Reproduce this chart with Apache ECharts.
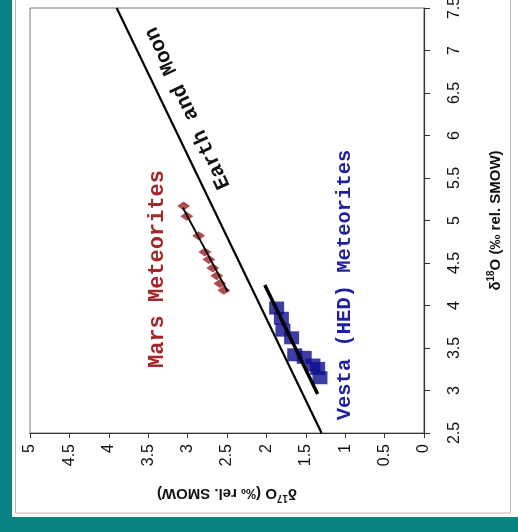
<!DOCTYPE html>
<html><head><meta charset="utf-8">
<script src="https://cdn.jsdelivr.net/npm/echarts@6/dist/echarts.min.js"></script>
<style>html,body{margin:0;padding:0;background:#0a8282;overflow:hidden}#c{width:518px;height:532px}</style>
</head><body><div id="c"></div><script>
// δ17O is drawn on the horizontal (bottom, reversed) axis, δ18O on the vertical (right) axis
const d17Ticks = [0, 0.5, 1, 1.5, 2, 2.5, 3, 3.5, 4, 4.5, 5];
const d18Ticks = [2.5, 3, 3.5, 4, 4.5, 5, 5.5, 6, 6.5, 7, 7.5];

const marsD18O = [5.17, 5.05, 4.82, 4.63, 4.54, 4.44, 4.35, 4.26, 4.18];
const marsD17O = [3.05, 3.01, 2.86, 2.78, 2.73, 2.68, 2.63, 2.59, 2.54];
const vestaD18O = [3.97, 3.85, 3.71, 3.62, 3.42, 3.39, 3.30, 3.26, 3.15];
const vestaD17O = [1.87, 1.81, 1.79, 1.68, 1.64, 1.52, 1.41, 1.35, 1.32];

const earthMoonD18O = [2.5, 7.5];
const earthMoonD17O = [1.3, 3.9];
const marsFitD18O = [5.15, 4.16];
const marsFitD17O = [3.06, 2.49];
const vestaFitD18O = [4.24, 2.96];
const vestaFitD17O = [2.02, 1.35];

const labels = {
  earth: 'Earth and Moon',
  mars: 'Mars Meteorites',
  vesta: 'Vesta (HED) Meteorites'
};

const pair = (a, b) => a.map((v, i) => [v, b[i]]);

const chart = echarts.init(document.getElementById('c'), null, {renderer: 'canvas'});
const axisFont = {fontFamily: 'Liberation Sans', fontSize: 16, color: '#111'};
const titleRich = {
  a: {fontFamily: 'Liberation Sans', fontSize: 15, fontWeight: 'bold', color: '#111'},
  s: {fontFamily: 'Liberation Sans', fontSize: 10, fontWeight: 'bold', color: '#111', verticalAlign: 'bottom', padding: [0, 0, 10, 0]}
};

chart.setOption({
  backgroundColor: '#0a8282',
  animation: false,
  grid: {left: 30, right: 94, top: 8, bottom: 99, outerBoundsMode: 'none', containLabel: false,
    show: true, borderColor: '#777', borderWidth: 1},
  xAxis: {
    type: 'value', inverse: true,
    min: d17Ticks[0], max: d17Ticks[d17Ticks.length - 1], interval: 0.5,
    splitLine: {show: false},
    axisLine: {lineStyle: {color: '#333', width: 1.2}},
    axisTick: {length: 5, lineStyle: {color: '#333'}},
    axisLabel: Object.assign({rotate: 90, margin: 11}, axisFont),
    name: '{a|δ}{s|17}{a|O (‰ rel. SMOW)}',
    nameLocation: 'middle', nameRotate: 180, nameGap: 50,
    nameTextStyle: {rich: titleRich}
  },
  yAxis: {
    type: 'value', position: 'right',
    min: d18Ticks[0], max: d18Ticks[d18Ticks.length - 1], interval: 0.5,
    splitLine: {show: false},
    axisLine: {lineStyle: {color: '#333', width: 1.2}},
    axisTick: {length: 6, lineStyle: {color: '#333'}},
    axisLabel: Object.assign({rotate: 90, margin: 23}, axisFont),
    name: '{a|δ}{s|18}{a|O (‰ rel. SMOW)}',
    nameLocation: 'middle', nameRotate: 90, nameGap: 62,
    nameTextStyle: {rich: titleRich}
  },
  graphic: [
    {type: 'rect', z: -10, shape: {x: 12, y: 0, width: 506, height: 517}, style: {fill: '#ffffff'}},
    {type: 'rect', z: -9, shape: {x: 15.5, y: -5, width: 495, height: 518}, style: {fill: 'none', stroke: '#bbbbbb', lineWidth: 1}},
    {type: 'text', x: 188, y: 108, rotation: 115 * Math.PI / 180, z: 10,
      style: {text: labels.earth, fontFamily: 'Liberation Mono', fontWeight: 'bold', fontSize: 21, fill: '#111', align: 'center', verticalAlign: 'middle'}},
    {type: 'text', x: 157, y: 269, rotation: Math.PI / 2, z: 10,
      style: {text: labels.mars, fontFamily: 'Liberation Mono', fontWeight: 'bold', fontSize: 22, fill: '#a3282a', align: 'center', verticalAlign: 'middle'}},
    {type: 'text', x: 345, y: 285, rotation: Math.PI / 2, z: 10,
      style: {text: labels.vesta, fontFamily: 'Liberation Mono', fontWeight: 'bold', fontSize: 20.5, fill: '#1f1fa0', align: 'center', verticalAlign: 'middle'}}
  ],
  series: [
    {type: 'scatter', name: 'Mars', data: pair(marsD17O, marsD18O), symbol: 'diamond', symbolSize: [13, 9],
      itemStyle: {color: '#9e1f22'}, z: 3},
    {type: 'scatter', name: 'Vesta', data: pair(vestaD17O, vestaD18O), symbol: 'rect', symbolSize: [15, 13],
      itemStyle: {color: '#0c0c8e'}, z: 3},
    {type: 'line', name: 'Earth and Moon', data: pair(earthMoonD17O, earthMoonD18O), symbol: 'none',
      lineStyle: {color: '#000', width: 2.2}, z: 4},
    {type: 'line', name: 'Mars fit', data: pair(marsFitD17O, marsFitD18O), symbol: 'none',
      lineStyle: {color: '#000', width: 1.8}, z: 4},
    {type: 'line', name: 'Vesta fit', data: pair(vestaFitD17O, vestaFitD18O), symbol: 'none',
      lineStyle: {color: '#000', width: 3.5}, z: 4}
  ]
});
</script></body></html>
